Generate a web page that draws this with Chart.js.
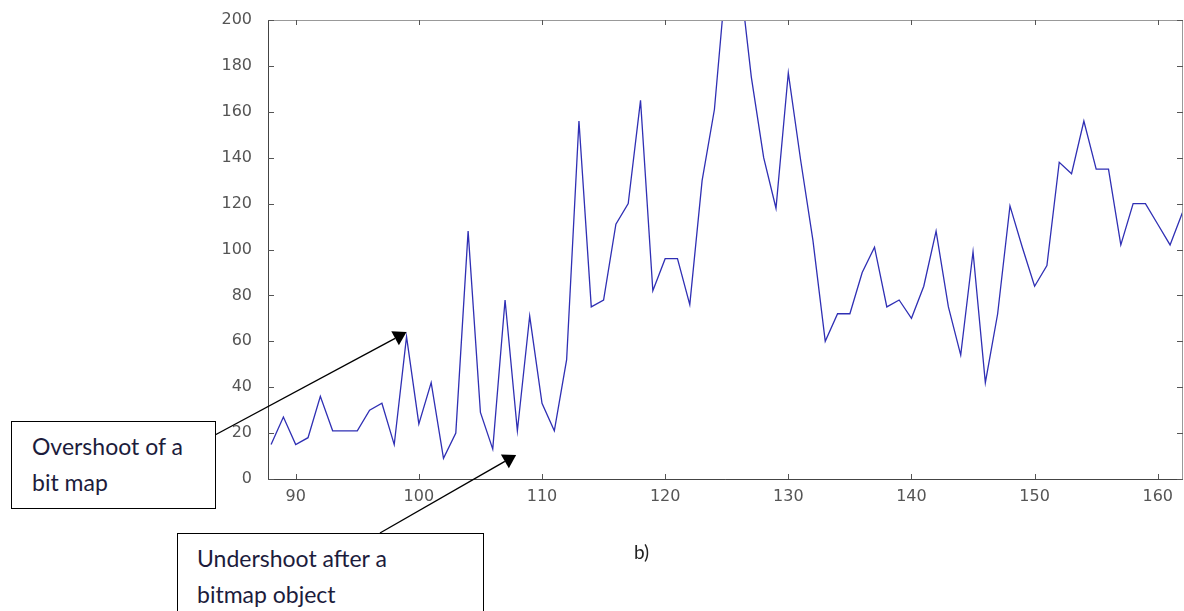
<!DOCTYPE html>
<html lang="en">
<head>
    <meta charset="UTF-8">
    <title>Overshoot / Undershoot</title>
    <style>
        body {
            margin: 0;
            background: #fff;
        }
        .wrap {
            position: relative;
            width: 1184px;
            height: 611px;
            overflow: hidden;
        }
        canvas {
            position: absolute;
            left: 0;
            top: 0;
        }
        .note {
            position: absolute;
            border: 1.5px solid #000;
            background: #fff;
            font-family: Lato, sans-serif;
            font-size: 23px;
            line-height: 36px;
            color: #1c1c3c;
            box-sizing: border-box;
            white-space: nowrap;
        }
        .label-b {
            position: absolute;
            left: 634px;
            top: 540px;
            font-family: Lato, sans-serif;
            font-size: 19px;
            color: #222;
        }
    </style>
    <script src="https://cdn.jsdelivr.net/npm/chart.js"></script>
</head>
<body>
<div class="wrap">
    <canvas id="signal" width="1184" height="611"></canvas>
    <div class="note" style="left:11px; top:421px; width:205px; height:88px; padding:6px 0 0 20px;">Overshoot of a<br>bit map</div>
    <div class="note" style="left:177px; top:533px; width:307px; height:100px; padding:6px 0 0 19px;">Undershoot after a<br>bitmap object</div>
    <div class="label-b">b)</div>
</div>
<script>
    // sample index on x, level on y
    const positions = [88, 89, 90, 91, 92, 93, 94, 95, 96, 97, 98, 99, 100, 101, 102, 103, 104, 105, 106, 107,
        108, 109, 110, 111, 112, 113, 114, 115, 116, 117, 118, 119, 120, 121, 122, 123, 124, 125, 126, 127,
        128, 129, 130, 131, 132, 133, 134, 135, 136, 137, 138, 139, 140, 141, 142, 143, 144, 145, 146, 147,
        148, 149, 150, 151, 152, 153, 154, 155, 156, 157, 158, 159, 160, 161, 162];
    const levels = [15, 27, 15, 18, 36, 21, 21, 21, 30, 33, 15, 62, 24, 42, 9, 20, 108, 29, 13, 78,
        21, 71, 33, 21, 52, 156, 75, 78, 111, 120, 165, 82, 96, 96, 76, 130, 161, 222, 222, 175,
        140, 118, 177, 139, 104, 60, 72, 72, 90, 101, 75, 78, 70, 84, 108, 75, 54, 99, 42, 72,
        119, 101, 84, 93, 138, 133, 156, 135, 135, 102, 120, 120, 111, 102, 116];
    const xTicks = [90, 100, 110, 120, 130, 140, 150, 160];
    const yTicks = [0, 20, 40, 60, 80, 100, 120, 140, 160, 180, 200];

    // arrow heads point at these (x, level) spots
    const overshootAt = [99, 64];
    const undershootAt = [107.9, 10.5];

    function drawArrow(ctx, x0, y0, x1, y1) {
        const ang = Math.atan2(y1 - y0, x1 - x0);
        const len = 13, half = 8;
        const bx = x1 - len * Math.cos(ang), by = y1 - len * Math.sin(ang);
        ctx.beginPath();
        ctx.moveTo(x0, y0);
        ctx.lineTo(bx, by);
        ctx.stroke();
        ctx.beginPath();
        ctx.moveTo(x1, y1);
        ctx.lineTo(bx + half * Math.sin(ang), by - half * Math.cos(ang));
        ctx.lineTo(bx - half * Math.sin(ang), by + half * Math.cos(ang));
        ctx.closePath();
        ctx.fill();
    }

    const frame = {
        id: 'frame',
        afterDraw(chart) {
            const { ctx, chartArea: a, scales: { x, y } } = chart;
            ctx.save();
            ctx.lineWidth = 1;
            ctx.strokeStyle = '#999';
            ctx.strokeRect(a.left + 0.5, a.top + 0.5, a.right - a.left - 1, a.bottom - a.top);
            ctx.strokeStyle = '#444';
            ctx.beginPath();
            ctx.moveTo(a.left + 0.5, a.top);
            ctx.lineTo(a.left + 0.5, a.bottom + 0.5);
            ctx.lineTo(a.right, a.bottom + 0.5);
            ctx.stroke();
            // inward tick marks on all four sides
            ctx.strokeStyle = '#555';
            ctx.beginPath();
            xTicks.forEach(v => {
                const px = Math.round(x.getPixelForValue(v)) + 0.5;
                ctx.moveTo(px, a.bottom); ctx.lineTo(px, a.bottom - 5);
                ctx.moveTo(px, a.top); ctx.lineTo(px, a.top + 5);
            });
            yTicks.forEach(v => {
                const py = Math.round(y.getPixelForValue(v)) + 0.5;
                ctx.moveTo(a.left, py); ctx.lineTo(a.left + 6, py);
                ctx.moveTo(a.right, py); ctx.lineTo(a.right - 6, py);
            });
            ctx.stroke();
            ctx.strokeStyle = '#000';
            ctx.fillStyle = '#000';
            ctx.lineWidth = 1.4;
            drawArrow(ctx, 215, 435, x.getPixelForValue(overshootAt[0]), y.getPixelForValue(overshootAt[1]));
            drawArrow(ctx, 380, 533, x.getPixelForValue(undershootAt[0]), y.getPixelForValue(undershootAt[1]));
            ctx.restore();
        }
    };

    const tickFont = { family: 'DejaVu Sans', size: 16 };

    new Chart(document.getElementById('signal'), {
        type: 'line',
        data: {
            datasets: [{
                data: positions.map((p, i) => ({ x: p, y: levels[i] })),
                borderColor: '#2f2fb4',
                borderWidth: 1.3,
                pointRadius: 0,
                tension: 0,
                fill: false
            }]
        },
        options: {
            responsive: false,
            animation: false,
            events: [],
            layout: { padding: { left: 0, top: 20, right: 1, bottom: 0 } },
            plugins: { legend: { display: false }, tooltip: { enabled: false } },
            scales: {
                x: {
                    type: 'linear',
                    min: 87.75,
                    max: 162.05,
                    grid: { display: false },
                    border: { display: false },
                    afterBuildTicks: s => { s.ticks = xTicks.map(v => ({ value: v })); },
                    afterFit: s => { s.height = 132; },
                    ticks: { font: tickFont, color: '#555', padding: 0, maxRotation: 0 }
                },
                y: {
                    min: 0,
                    max: 200,
                    grid: { display: false },
                    border: { display: false },
                    afterBuildTicks: s => { s.ticks = yTicks.map(v => ({ value: v })); },
                    afterFit: s => { s.width = 268; },
                    ticks: { font: tickFont, color: '#555', padding: 8 }
                }
            }
        },
        plugins: [frame]
    });
</script>
</body>
</html>
